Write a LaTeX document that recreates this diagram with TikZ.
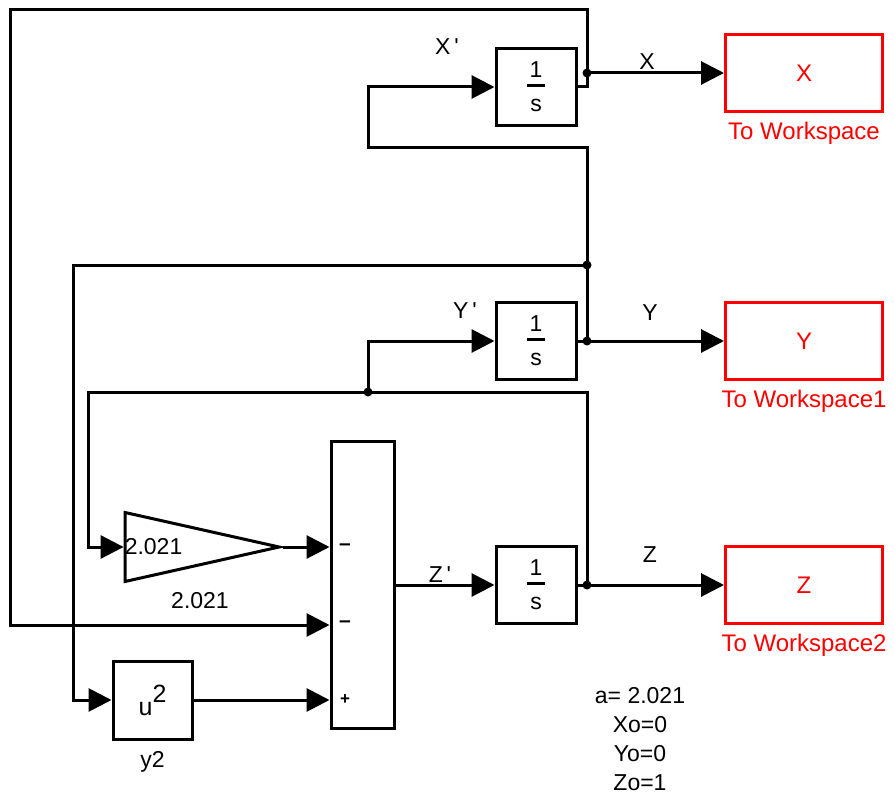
\documentclass[tikz,border=0pt]{standalone}
\usepackage{fontspec}
\setmainfont{Liberation Sans}
\usetikzlibrary{shapes.geometric, arrows.meta, positioning}
\definecolor{wsred}{RGB}{255, 0, 0}
\definecolor{wireblack}{RGB}{0, 0, 0}
\newcommand{\intfrac}{1\\\rule[8pt]{18pt}{2.5pt}\\s}
\tikzset{
    block/.style={rectangle, draw=wireblack, line width=3pt, minimum width=80pt, minimum height=77pt, inner sep=0pt, align=center, font=\fontsize{23}{17}\selectfont},
    wsblock/.style={rectangle, draw=wsred, text=wsred, line width=3pt, minimum width=157pt, minimum height=77pt, font=\fontsize{24}{28}\selectfont},
    sumblock/.style={rectangle, draw=wireblack, line width=3pt, minimum width=63pt, minimum height=287pt},
    gainblock/.style={isosceles triangle, isosceles triangle stretches, draw=wireblack, line width=3pt, minimum width=69pt, minimum height=154pt, inner sep=0pt},
    wire/.style={wireblack, line width=3pt},
    sig/.style={wire, -{Triangle[length=23pt, width=23pt]}},
    lbl/.style={inner sep=0pt, font=\fontsize{23}{27}\selectfont},
    wslbl/.style={lbl, text=wsred, font=\fontsize{24}{28}\selectfont},
    sign/.style={inner sep=0pt, font=\fontsize{21}{21}\selectfont\bfseries}
}
\begin{document}
\begin{tikzpicture}[x=1pt, y=-1pt]
    \useasboundingbox (0,0) rectangle (894,805);

    \node (intX) [block] at (536,87) {\intfrac};
    \node (intY) [block] at (536,341) {\intfrac};
    \node (intZ) [block] at (536,585) {\intfrac};

    \node (wsX) [wsblock] at (804,73) {X};
    \node (wsY) [wsblock] at (804,341) {Y};
    \node (wsZ) [wsblock] at (804,585) {Z};
    \node (wsXname) [wslbl, below=9pt of wsX] {To Workspace};
    \node (wsYname) [wslbl, below=9pt of wsY] {To Workspace1};
    \node (wsZname) [wslbl, below=9pt of wsZ] {To Workspace2};

    \node (sum) [sumblock] at (362.5,584.5) {};
    \node (sg1) [sign] at (345,547) {--};
    \node (sg2) [sign] at (345,624) {--};
    \node (sg3) [sign, font=\fontsize{17}{17}\selectfont\bfseries] at (345,700) {+};

    \node (gain) [gainblock, anchor=apex] at (283,547) {};
    \node (gaintxt) [lbl, anchor=west] at ([xshift=1pt]gain.west) {2.021};
    \node (gainname) [lbl] at (200,601) {2.021};

    \node (sq) [block, minimum width=79pt, minimum height=78pt, font=\fontsize{25}{29}\selectfont] at (152.5,700) {u\raisebox{13pt}{2}};
    \node (sqname) [lbl, below=11pt of sq] {y2};

    \node (lXd) [lbl] at (447,47) {X\,\textquotesingle};
    \node (lX) [lbl] at (647,62) {X};
    \node (lYd) [lbl] at (465,311) {Y\,\textquotesingle};
    \node (lY) [lbl] at (650,313) {Y};
    \node (lZd) [lbl] at (440,575) {Z\,\textquotesingle};
    \node (lZ) [lbl] at (650,555) {Z};

    \node (params) [lbl, align=center, font=\fontsize{23}{29}\selectfont] at (640,739.5) {a= 2.021\\Xo=0\\Yo=0\\Zo=1};

    \coordinate (jX) at (587,73);
    \coordinate (jY) at (587,341);
    \coordinate (jYup) at (587,265);
    \coordinate (jZ) at (587,585);
    \coordinate (jZmid) at (368,392);
    \coordinate (topleft) at (10,10);
    \coordinate (xloop) at (368,148);
    \coordinate (yleft) at (73,265);
    \coordinate (zleft) at (88,392);
    \coordinate (sumin2) at ([yshift=-40.5pt]sum.west);

    \draw [wire] (intX.east) -| (jX);
    \draw [sig] (jX) -- (wsX.west);
    \draw [sig] (jX) |- (topleft) |- (sumin2);

    \draw [wire] (intY.east) -- (jY);
    \draw [sig] (jY) -- (wsY.west);
    \draw [sig] (jY) -- (jYup) |- (xloop) |- (intX.west);
    \draw [sig] (jYup) -- (yleft) |- (sq.west);

    \draw [wire] (intZ.east) -- (jZ);
    \draw [sig] (jZ) -- (wsZ.west);
    \draw [sig] (jZ) |- (zleft) |- (gain.west);
    \draw [sig] (jZmid) |- (intY.west);

    \draw [sig] (gain.apex) -- (gain.apex -| sum.west);
    \draw [sig] (sq.east) -- (sq.east -| sum.west);
    \draw [sig] (sum.east |- intZ.west) -- (intZ.west);

    \foreach \j in {jX, jY, jYup, jZ, jZmid}
        \fill [wireblack] (\j) circle (4.5pt);
\end{tikzpicture}
\end{document}
